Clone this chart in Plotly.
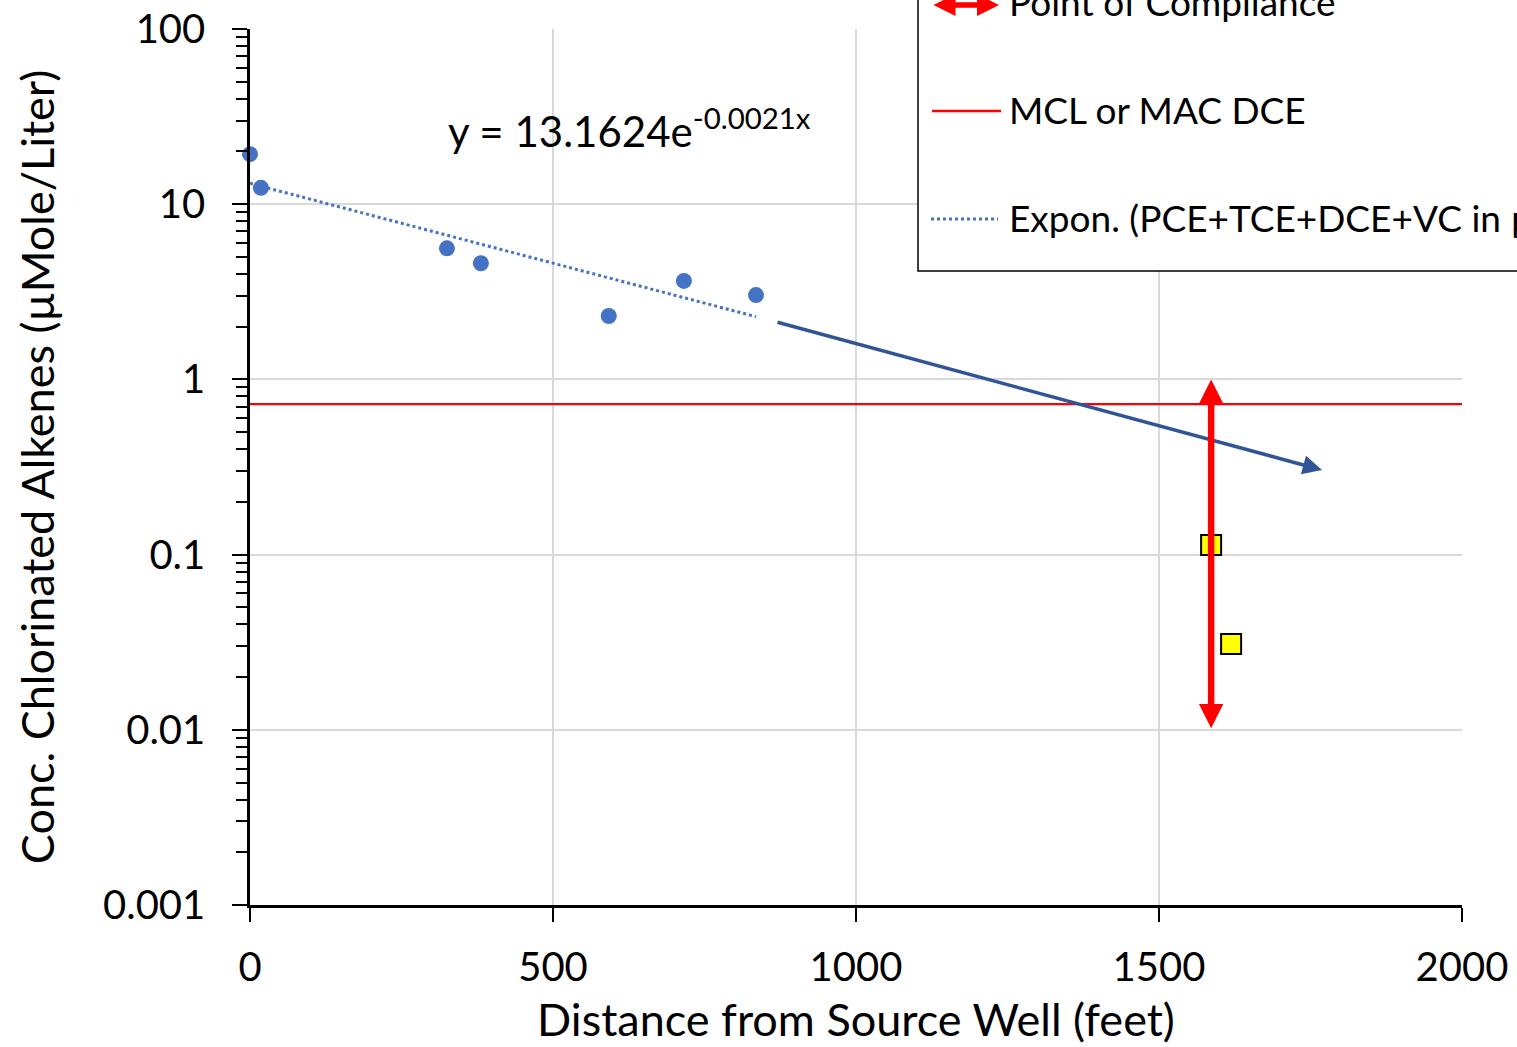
import math
import plotly.graph_objects as go

# ---------------- data ----------------
dist_obs = [0, 18, 325, 381, 592, 716, 835]
conc_obs = [19.3, 12.4, 5.6, 4.6, 2.3, 3.65, 3.03]

poc_dist = [1586, 1619]
poc_conc = [0.1135, 0.0309]

trend_dist = [0, 835]
trend_conc = [13.16, 2.28]

mcl_dist = [0, 2000]
mcl_conc = [0.722, 0.722]

proj_dist = [868, 1769]
proj_conc = [2.13, 0.304]

compliance_dist = [1586, 1586]
compliance_conc = [0.01, 1.0]

x_ticks = [0, 500, 1000, 1500, 2000]
y_ticks = [0.001, 0.01, 0.1, 1, 10, 100]
y_tick_text = ["0.001", "0.01", "0.1", "1", "10", "100"]
y_minor = [d * k for d in [0.001, 0.01, 0.1, 1, 10] for k in range(2, 10)]

legend_labels = ["Point of Compliance", "MCL or MAC DCE",
                 "Expon. (PCE+TCE+DCE+VC in µMole/Liter)"]
equation_text = "y = 13.1624e<sup>-0.0021x</sup>"

# ---------------- layout geometry ----------------
W, H = 1517, 1047
L, R, T, B = 250, 55, 29, 142
PW, PH = W - L - R, H - T - B


def px(xp):
    return (xp - L) / PW


def py(yp):
    return (H - B - yp) / PH


FONT = "Lato"
BLUE = "#4472C4"
DARK_BLUE = "#2F5597"
GRID = "#D9D9D9"

fig = go.Figure()

fig.add_trace(go.Scatter(
    x=mcl_dist, y=mcl_conc, mode="lines",
    line=dict(color="#FF0000", width=2.2), showlegend=False))

fig.add_trace(go.Scatter(
    x=trend_dist, y=trend_conc, mode="lines",
    line=dict(color=BLUE, width=3, dash="dot"), showlegend=False))

fig.add_trace(go.Scatter(
    x=dist_obs, y=conc_obs, mode="markers", cliponaxis=False,
    marker=dict(color=BLUE, size=16, line=dict(width=0)), showlegend=False))

# projection arrow
fig.add_annotation(
    x=proj_dist[1], y=math.log10(proj_conc[1]),
    ax=proj_dist[0], ay=math.log10(proj_conc[0]),
    xref="x", yref="y", axref="x", ayref="y",
    text="", showarrow=True, arrowhead=2, arrowsize=1.1,
    arrowwidth=3.5, arrowcolor=DARK_BLUE, standoff=0, startstandoff=0)

# point of compliance double arrow
fig.add_annotation(
    x=compliance_dist[1], y=math.log10(compliance_conc[1]),
    ax=compliance_dist[0], ay=math.log10(compliance_conc[0]),
    xref="x", yref="y", axref="x", ayref="y",
    text="", showarrow=True, arrowhead=2, arrowsize=0.75,
    arrowside="end+start",
    arrowwidth=6.5, arrowcolor="#FF0000", standoff=0, startstandoff=0)

fig.add_trace(go.Scatter(
    x=poc_dist, y=poc_conc, mode="markers",
    marker=dict(color="#FFFF00", size=20, symbol="square",
                line=dict(color="black", width=2)), showlegend=False))

# equation
fig.add_annotation(
    x=px(446), y=py(128), xref="paper", yref="paper",
    xanchor="left", yanchor="middle", showarrow=False,
    text=equation_text, font=dict(family=FONT, size=42, color="black"))

# ---------------- manual legend ----------------
fig.add_shape(type="rect", xref="paper", yref="paper",
              x0=px(918), x1=px(1560), y0=py(271), y1=py(-30),
              fillcolor="white", line=dict(color="black", width=1.5),
              layer="above")
fig.add_shape(type="line", xref="paper", yref="paper",
              x0=px(932), x1=px(1001), y0=py(111), y1=py(111),
              line=dict(color="#FF0000", width=2.5), layer="above")
fig.add_shape(type="line", xref="paper", yref="paper",
              x0=px(931), x1=px(998), y0=py(219), y1=py(219),
              line=dict(color=BLUE, width=3, dash="dot"), layer="above")
fig.add_annotation(
    x=px(999), y=py(5), xref="paper", yref="paper",
    ax=-67, ay=0, text="", showarrow=True, arrowhead=2, arrowsize=0.8,
    arrowside="end+start", arrowwidth=5.5, arrowcolor="#FF0000",
    standoff=0, startstandoff=0)
for label, yp in zip(legend_labels, [2, 109, 217]):
    fig.add_annotation(
        x=px(1007), y=py(yp), xref="paper", yref="paper",
        xanchor="left", yanchor="middle", showarrow=False,
        text=label, font=dict(family=FONT, size=37, color="black"))

fig.update_layout(
    width=W, height=H,
    margin=dict(l=L, r=R, t=T, b=B, autoexpand=False),
    paper_bgcolor="white", plot_bgcolor="white",
    font=dict(family=FONT, size=40, color="black"),
    showlegend=False,
)

fig.update_xaxes(
    range=[0, 2000], tickvals=x_ticks, ticktext=[str(v) for v in x_ticks],
    showgrid=True, gridcolor=GRID, gridwidth=2,
    showline=True, linecolor="black", linewidth=2.5,
    ticks="outside", ticklen=14, tickwidth=2, tickcolor="black",
    ticklabelstandoff=11, zeroline=False,
    title=dict(text="Distance from Source Well (feet)",
               font=dict(family=FONT, size=45), standoff=16),
    tickfont=dict(family=FONT, size=40),
)

fig.update_yaxes(
    type="log", range=[-3, 2], tickvals=y_ticks, ticktext=y_tick_text,
    showgrid=True, gridcolor=GRID, gridwidth=2,
    showline=True, linecolor="black", linewidth=2.5,
    ticks="outside", ticklen=15, tickwidth=2, tickcolor="black",
    ticklabelstandoff=19, zeroline=False,
    minor=dict(tickvals=y_minor, ticks="outside", ticklen=11, tickwidth=2,
               tickcolor="black", showgrid=False),
    title=dict(text="Conc. Chlorinated Alkenes (µMole/Liter)",
               font=dict(family=FONT, size=45), standoff=35),
    tickfont=dict(family=FONT, size=40),
)

fig.write_html("out.html")
